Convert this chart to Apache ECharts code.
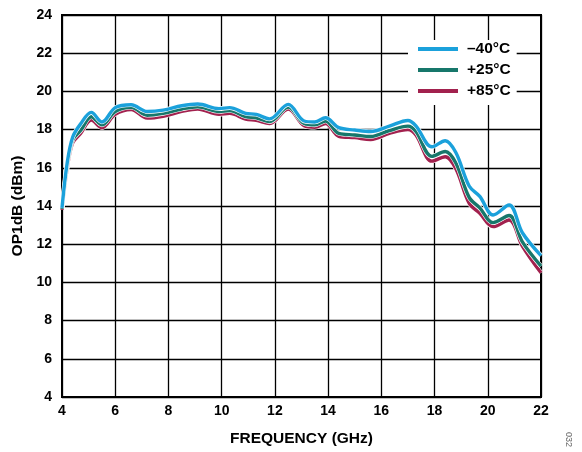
<!DOCTYPE html>
<html>
<head>
<meta charset="utf-8">
<script src="https://cdn.jsdelivr.net/npm/echarts@6/dist/echarts.min.js"></script>
<style>html,body{margin:0;padding:0;background:#fff;}#c{width:582px;height:452px;}</style>
</head>
<body>
<div id="c"></div>
<script>
var freq = [4.0, 4.2, 4.4, 4.7, 5.1, 5.5, 6.0, 6.6, 7.2, 7.8, 8.5, 9.1, 9.9, 10.3, 10.9, 11.3, 11.8, 12.5, 13.1, 13.5, 13.9, 14.4, 15.0, 15.6, 16.3, 17.0, 17.3, 17.9, 18.4, 18.8, 19.3, 19.7, 20.2, 20.8, 21.3, 22.0];
var tM40 = [13.9, 16.3, 17.6, 18.3, 18.9, 18.4, 19.15, 19.3, 18.95, 19.02, 19.25, 19.34, 19.1, 19.15, 18.85, 18.8, 18.56, 19.32, 18.45, 18.4, 18.62, 18.1, 17.98, 17.9, 18.18, 18.48, 18.2, 17.1, 17.42, 16.8, 15.05, 14.5, 13.53, 14.05, 12.6, 11.4];
var tP25 = [13.85, 16.15, 17.45, 17.95, 18.67, 18.25, 18.95, 19.17, 18.75, 18.85, 19.08, 19.2, 18.95, 19.0, 18.68, 18.62, 18.42, 19.18, 18.32, 18.25, 18.45, 17.8, 17.72, 17.64, 17.95, 18.18, 17.9, 16.6, 16.85, 16.25, 14.45, 13.9, 13.13, 13.5, 12.12, 10.85];
var tP85 = [13.8, 16.0, 17.3, 17.8, 18.5, 18.1, 18.8, 19.05, 18.6, 18.7, 18.95, 19.08, 18.8, 18.85, 18.55, 18.48, 18.32, 19.08, 18.2, 18.12, 18.32, 17.65, 17.58, 17.48, 17.8, 18.0, 17.72, 16.35, 16.58, 15.95, 14.15, 13.62, 12.92, 13.27, 11.9, 10.5];
var names = ['\u201340\u00b0C', '+25\u00b0C', '+85\u00b0C'];
var colors = ['#1BA1DB', '#17776B', '#A2214E'];
var xTicks = [4, 6, 8, 10, 12, 14, 16, 18, 20, 22];
var yTicks = [4, 6, 8, 10, 12, 14, 16, 18, 20, 22, 24];

function pairs(v) { return freq.map(function (f, i) { return [f, v[i]]; }); }
var sets = [tM40, tP25, tP85];
var series = [];
[2, 1, 0].forEach(function (k) {
  series.push({ type: 'line', name: 'halo' + k, data: pairs(sets[k]), smooth: 0.35, symbol: 'none', silent: true,
    lineStyle: { color: '#ffffff', width: 4.6 }, z: 3 });
  series.push({ type: 'line', name: names[k], data: pairs(sets[k]), smooth: 0.35, symbol: 'none',
    itemStyle: { color: colors[k] }, lineStyle: { color: colors[k], width: 3.4 }, z: 3 });
});

var font = 'Liberation Sans, Arial, sans-serif';
var chart = echarts.init(document.getElementById('c'));
chart.setOption({
  animation: false,
  backgroundColor: '#ffffff',
  grid: { left: 62, right: 41, top: 15, bottom: 55, show: true, borderColor: '#000', borderWidth: 2 },
  xAxis: {
    type: 'value', min: xTicks[0], max: xTicks[xTicks.length - 1], interval: 2,
    name: 'FREQUENCY (GHz)', nameLocation: 'middle', nameGap: 34,
    nameTextStyle: { fontFamily: font, fontWeight: 'bold', fontSize: 15.5, color: '#000' },
    axisLine: { lineStyle: { color: '#000', width: 2 } },
    axisTick: { show: false },
    axisLabel: { fontFamily: font, fontWeight: 'bold', fontSize: 14, color: '#000', margin: 7 },
    splitLine: { show: true, lineStyle: { color: '#000', width: 1.3 } }
  },
  yAxis: {
    type: 'value', min: yTicks[0], max: yTicks[yTicks.length - 1], interval: 2,
    name: 'OP1dB (dBm)', nameLocation: 'middle', nameGap: 34,
    nameTextStyle: { fontFamily: font, fontWeight: 'bold', fontSize: 15.5, color: '#000' },
    axisLine: { lineStyle: { color: '#000', width: 2 } },
    axisTick: { show: false },
    axisLabel: { fontFamily: font, fontWeight: 'bold', fontSize: 14, color: '#000', margin: 10 },
    splitLine: { show: true, lineStyle: { color: '#000', width: 1.3 } }
  },
  legend: {
    data: names, orient: 'vertical', left: 408, top: 40,
    backgroundColor: '#ffffff', padding: [1, 6, 6, 10],
    icon: 'rect', itemWidth: 40, itemHeight: 4, itemGap: 5,
    textStyle: { fontFamily: font, fontWeight: 'bold', fontSize: 15.5, color: '#000', padding: [0, 0, 0, 4] }
  },
  graphic: [{
    type: 'text', left: 564, top: 432, rotation: -Math.PI / 2,
    style: { text: '032', fontFamily: font, fontSize: 9, fill: '#666' }
  }],
  series: series
});
</script>
</body>
</html>
